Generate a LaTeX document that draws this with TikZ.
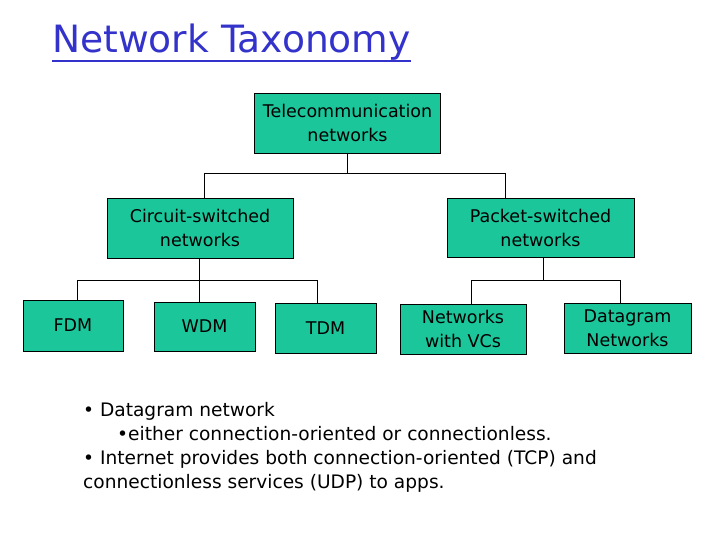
\documentclass[tikz,border=0pt]{standalone}
\usepackage{fontspec}
\setmainfont{DejaVu Sans}
\definecolor{boxfill}{RGB}{28,198,155}
\definecolor{titleblue}{RGB}{51,51,204}
\begin{document}
\begin{tikzpicture}[x=1pt,y=-1pt,
  taxbox/.style={draw=black,line width=0.9pt,fill=boxfill,inner sep=0pt,align=center,
    font=\fontsize{17.5}{24}\selectfont},
  link/.style={draw=black,line width=0.9pt},
  bodytext/.style={anchor=base west,inner sep=0pt,font=\fontsize{18.6}{24}\selectfont}]
\useasboundingbox[fill=white] (0,0) rectangle (720,540);
% title
\node[anchor=base west,inner sep=0pt,text=titleblue,font=\fontsize{37.6}{42}\selectfont] (title) at (52,53) {Network Taxonomy};
\draw[titleblue,line width=2pt] (title.base west) ++(0,8) coordinate (ul1) -- (ul1 -| title.base east);
% boxes
\node[taxbox,minimum width=186,minimum height=60] (tele) at (347.5,123) {Telecommunication\\networks};
\node[taxbox,minimum width=186,minimum height=60] (circ) at (200,228) {Circuit-switched\\networks};
\node[taxbox,minimum width=187,minimum height=59] (pack) at (540.5,227.5) {Packet-switched\\networks};
\node[taxbox,minimum width=100,minimum height=51] (fdm) at (73,325.5) {FDM};
\node[taxbox,minimum width=101,minimum height=49] (wdm) at (204.5,326.5) {WDM};
\node[taxbox,minimum width=101,minimum height=50] (tdm) at (325.5,328) {TDM};
\node[taxbox,minimum width=126,minimum height=50] (vcs) at (463,329) {Networks\\with VCs};
\node[taxbox,minimum width=127,minimum height=50] (dgm) at (627.5,328) {Datagram\\Networks};
% connectors
\coordinate (j1) at (347,173);
\coordinate (j1l) at (204,173);
\coordinate (j1r) at (505,173);
\draw[link] (tele.south -| j1) -- (j1);
\draw[link] (j1l) -- (j1r);
\draw[link] (j1l) -- (j1l |- circ.north);
\draw[link] (j1r) -- (j1r |- pack.north);
\coordinate (j2) at (199,280);
\coordinate (j2l) at (77,280);
\coordinate (j2r) at (317,280);
\draw[link] (circ.south -| j2) -- (j2);
\draw[link] (j2l) -- (j2r);
\draw[link] (j2l) -- (j2l |- fdm.north);
\draw[link] (j2) -- (j2 |- wdm.north);
\draw[link] (j2r) -- (j2r |- tdm.north);
\coordinate (j3) at (543,280);
\coordinate (j3l) at (471,280);
\coordinate (j3r) at (620,280);
\draw[link] (pack.south -| j3) -- (j3);
\draw[link] (j3l) -- (j3r);
\draw[link] (j3l) -- (j3l |- vcs.north);
\draw[link] (j3r) -- (j3r |- dgm.north);
% text
\node[bodytext] (l1) at (83,416) {• Datagram network};
\node[bodytext] (l2) at (117,440) {•either connection-oriented or connectionless.};
\node[bodytext] (l3) at (83,464) {• Internet provides both connection-oriented (TCP) and};
\node[bodytext] (l4) at (83,488) {connectionless services (UDP) to apps.};
\end{tikzpicture}
\end{document}
